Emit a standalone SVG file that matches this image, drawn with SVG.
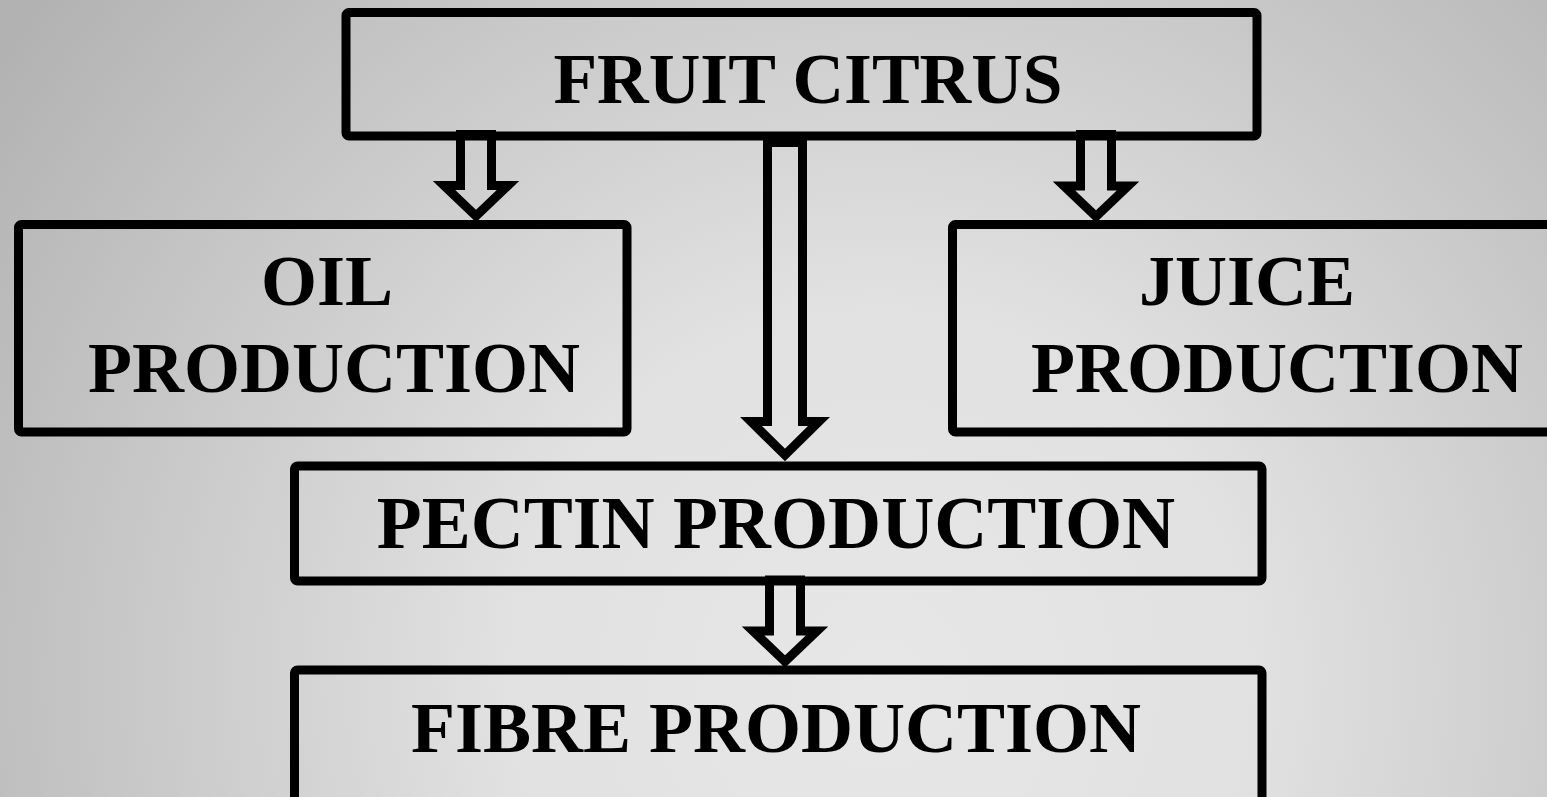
<svg xmlns="http://www.w3.org/2000/svg" width="1547" height="797" viewBox="0 0 1547 797">
<defs>
<radialGradient id="bg" gradientUnits="userSpaceOnUse" cx="880" cy="680" r="1080">
<stop offset="0" stop-color="#e7e7e7"/>
<stop offset="0.35" stop-color="#e1e1e1"/>
<stop offset="1" stop-color="#b2b2b2"/>
</radialGradient>
<style>
.box{fill:none;stroke:#000;stroke-width:9}
.arr{fill:none;stroke:#000;stroke-width:9;stroke-linejoin:miter;stroke-miterlimit:10}
.t{font-family:"Liberation Serif","Times New Roman",serif;font-weight:bold;font-size:72px;fill:#000;text-anchor:middle}
</style>
</defs>
<rect x="0" y="0" width="1547" height="797" fill="url(#bg)"/>
<g id="connectors">
<path class="arr" d="M460.5,134.5 H491.5 V185.5 H508 L476,216 L444,185.5 H460.5 Z"/>
<path class="arr" d="M767.5,142.5 H802.5 V421.5 H819 L785,455 L751,421.5 H767.5 Z"/>
<path class="arr" d="M1080.5,134.5 H1111.5 V186 H1128 L1096,216.5 L1064,186 H1080.5 Z"/>
<path class="arr" d="M769.5,580 H800.5 V631 H817 L785,661.5 L753,631 H769.5 Z"/>
</g>
<g id="fruit-citrus">
<rect class="box" x="346" y="12.5" width="911" height="123.5" rx="3"/>
<text class="t" x="808" y="103" style="font-size:71.5px">FRUIT CITRUS</text>
</g>
<g id="oil-production">
<rect class="box" x="18.5" y="224.5" width="608.5" height="207.5" rx="3"/>
<text class="t" x="327" y="305">OIL</text>
<text class="t" x="334" y="392">PRODUCTION</text>
</g>
<g id="juice-production">
<rect class="box" x="952.5" y="224.5" width="620" height="207.5" rx="3"/>
<text class="t" x="1247" y="305">JUICE</text>
<text class="t" x="1277" y="392">PRODUCTION</text>
</g>
<g id="pectin-production">
<rect class="box" x="294.5" y="466" width="967.5" height="115" rx="3"/>
<text class="t" x="776" y="548" style="font-size:73.5px">PECTIN PRODUCTION</text>
</g>
<g id="fibre-production">
<rect class="box" x="294.5" y="670" width="967.5" height="150" rx="3"/>
<text class="t" x="776" y="752">FIBRE PRODUCTION</text>
</g>
</svg>
